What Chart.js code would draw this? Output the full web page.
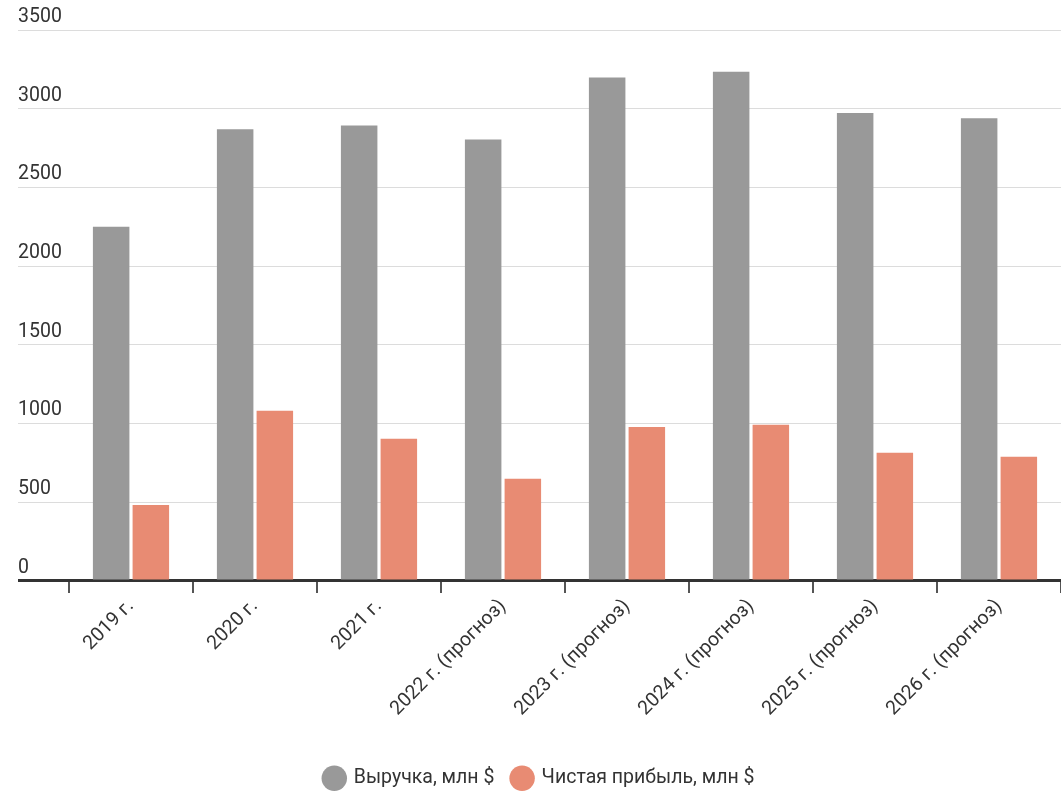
<!DOCTYPE html>
<html>
<head>
<meta charset="utf-8">
<script src="https://cdn.jsdelivr.net/npm/chart.js@4/dist/chart.umd.min.js"></script>
<style>
  html, body { margin: 0; padding: 0; background: #fff; }
  #wrap { width: 1061px; height: 811px; }
</style>
</head>
<body>
<div id="wrap"><canvas id="chart"></canvas></div>
<script>
"use strict";

const years = ["2019 г.", "2020 г.", "2021 г.", "2022 г. (прогноз)", "2023 г. (прогноз)",
  "2024 г. (прогноз)", "2025 г. (прогноз)", "2026 г. (прогноз)"];
const revenue = [2250, 2869, 2894, 2805, 3199, 3235, 2972, 2940];
const netProfit = [483, 1081, 903, 649, 979, 992, 814, 789];
const seriesNames = ["Выручка, млн $", "Чистая прибыль, млн $"];

Chart.defaults.font.family = "Roboto, 'Noto Sans', sans-serif";
Chart.defaults.color = "#333";

let ctx = document.getElementById("chart");
let chart = new Chart(ctx, {
  type: "bar",
  data: {
    labels: years,
    datasets: [
      {
        label: seriesNames[0],
        data: revenue,
        backgroundColor: "#999999",
        categoryPercentage: 0.64,
        barPercentage: 0.92,
      },
      {
        label: seriesNames[1],
        data: netProfit,
        backgroundColor: "#e88b73",
        categoryPercentage: 0.64,
        barPercentage: 0.92,
      },
    ],
  },
  options: {
    responsive: true,
    maintainAspectRatio: false,
    animation: false,
    layout: { padding: { left: 18, right: 0, top: 30, bottom: 13 } },
    plugins: {
      tooltip: { enabled: false },
      legend: {
        position: "bottom",
        labels: {
          usePointStyle: true,
          pointStyle: "circle",
          boxHeight: 18,
          font: { size: 19.5 },
          color: "#333",
          padding: 18,
        },
      },
    },
    scales: {
      x: {
        afterFit: function (scale) {
          scale.height += 28;
        },
        grid: {
          offset: true,
          drawOnChartArea: false,
          drawTicks: true,
          tickLength: 12,
          color: "#555",
          lineWidth: 2,
        },
        border: { display: false },
        ticks: {
          font: { size: 19.5 },
          color: "#333",
          maxRotation: 45,
          minRotation: 45,
          padding: 2,
        },
      },
      y: {
        min: 0,
        max: 3500,
        afterFit: function (scale) {
          scale.width = 51;
        },
        border: { display: false },
        grid: {
          drawTicks: true,
          tickLength: 51,
          color: (c) => (c.tick && c.tick.value === 0 ? "#333" : "#dcdcdc"),
          lineWidth: (c) => (c.tick && c.tick.value === 0 ? 3 : 1),
        },
        ticks: {
          stepSize: 500,
          crossAlign: "far",
          labelOffset: -13,
          font: { size: 19.5 },
          color: "#333",
          callback: (v) => String(v),
        },
      },
    },
  },
});
</script>
</body>
</html>
